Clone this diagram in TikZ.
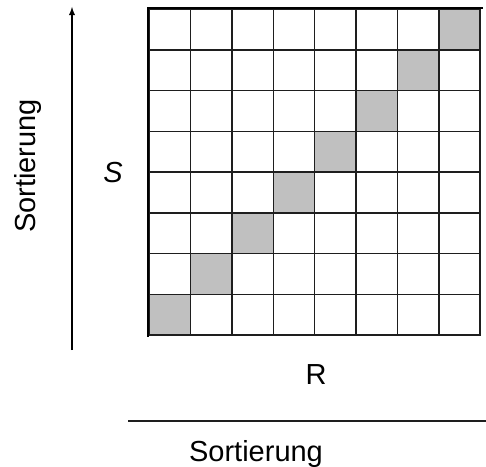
\documentclass[tikz,border=0pt]{standalone}
\usepackage{fontspec}
\setmainfont{Liberation Sans}
\usepackage{tikz}
\usetikzlibrary{matrix,arrows}

\definecolor{cellgray}{RGB}{192,192,192}
\definecolor{gridline}{RGB}{30,30,30}

\begin{document}
\begin{tikzpicture}[x=0.02cm, y=-0.02cm,
  every node/.style={font=\fontsize{16.5}{20}\selectfont},
  diag/.style={fill=cellgray}]
  \useasboundingbox (0,0) rectangle (486,466);
  \matrix (m) [matrix of nodes, anchor=north west, inner sep=0pt,
    nodes in empty cells, row sep=-0.85pt, column sep=-0.85pt,
    nodes={draw=gridline, line width=0.85pt, minimum width=0.828cm, minimum height=0.815cm, inner sep=0pt}]
  at (148,8)
  {
    & & & & & & & |[diag]| \\
    & & & & & & |[diag]| & \\
    & & & & & |[diag]| & & \\
    & & & & |[diag]| & & & \\
    & & & |[diag]| & & & & \\
    & & |[diag]| & & & & & \\
    & |[diag]| & & & & & & \\
    |[diag]| & & & & & & & \\
  };
  % heavier top and left edge of the table
  \draw[line width=1.5pt, line cap=rect] (m.south west) -- (m.north west) -- (m.north east);

  \coordinate (ylow) at (72,350);
  \coordinate (yhigh) at (72,7);
  \coordinate (xlow) at (128,421);
  \coordinate (xhigh) at (486,421);
  \draw[-latex, line width=0.6pt] (ylow) -- (yhigh);
  \draw[line width=0.85pt, gridline] (xlow) -- (xhigh);

  \node[rotate=90] (ysort) at (28,166) {Sortierung};
  \node (s) at (113,173) {\itshape S};
  \node (r) at (316,375) {R};
  \node (xsort) at (256,454) {Sortierung};
\end{tikzpicture}
\end{document}
